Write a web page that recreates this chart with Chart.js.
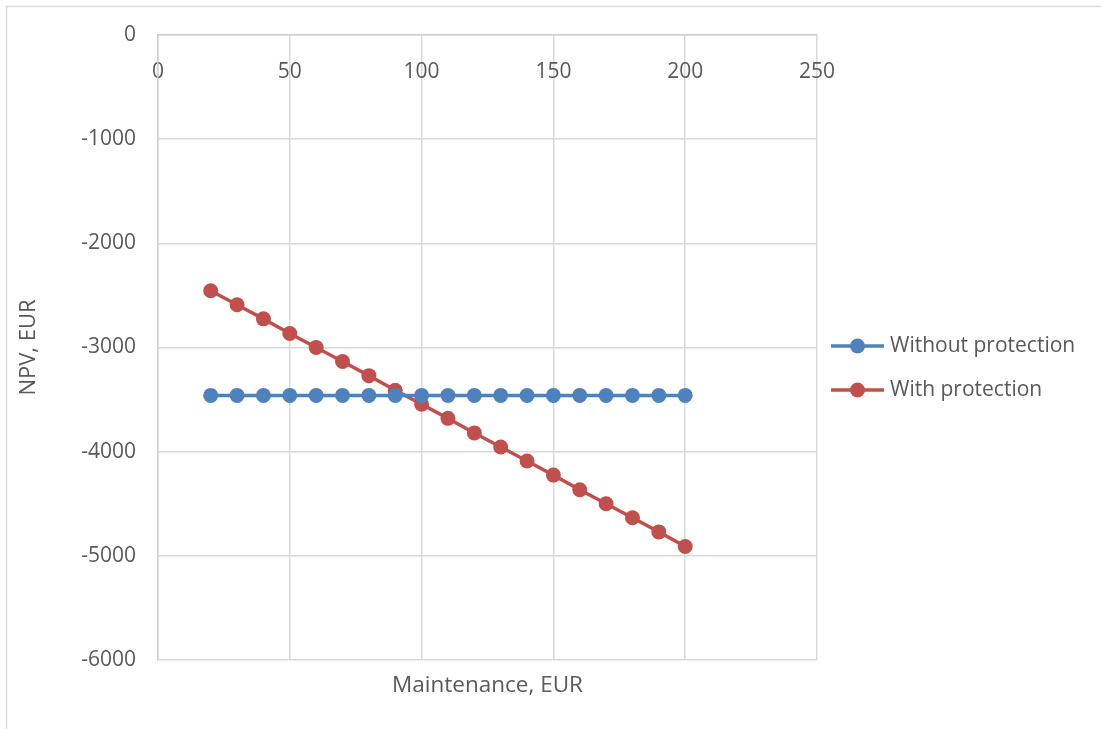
<!DOCTYPE html>
<html>
<head>
<meta charset="utf-8">
<script src="https://cdn.jsdelivr.net/npm/chart.js@4/dist/chart.umd.min.js"></script>
<style>
  html, body { margin: 0; padding: 0; background: #ffffff; }
  #wrap { width: 1101px; height: 729px; }
</style>
</head>
<body>
<div id="wrap"><canvas id="npv" width="1101" height="729"></canvas></div>
<script>
// Maintenance cost (EUR) on the horizontal axis
const maintenance = [20, 30, 40, 50, 60, 70, 80, 90, 100, 110, 120, 130, 140, 150, 160, 170, 180, 190, 200];
// NPV (EUR) for each scenario
const withoutProtection = [-3460, -3460, -3460, -3460, -3460, -3460, -3460, -3460, -3460, -3460,
                           -3460, -3460, -3460, -3460, -3460, -3460, -3460, -3460, -3460];
const withProtection = [-2455, -2590, -2725, -2865, -3000, -3135, -3270, -3410, -3545, -3680,
                        -3820, -3955, -4090, -4225, -4365, -4500, -4635, -4770, -4910];
const seriesNames = ['Without protection', 'With protection'];
const xTicks = [0, 50, 100, 150, 200, 250];
const yTicks = [0, -1000, -2000, -3000, -4000, -5000, -6000];

const BLUE = '#4f81bd';
const RED = '#c0504d';
const TEXT = '#595959';
const GRID = '#d9d9d9';
const FONT = "'Open Sans', 'Noto Sans', sans-serif";

Chart.defaults.font.family = FONT;
Chart.defaults.color = TEXT;

function toPoints(xs, ys) {
  return xs.map((x, i) => ({ x: x, y: ys[i] }));
}

// Outer frame of the chart object
const framePlugin = {
  id: 'frame',
  beforeDraw(chart) {
    const ctx = chart.ctx;
    ctx.save();
    ctx.fillStyle = '#ffffff';
    ctx.fillRect(0, 0, chart.width, chart.height);
    ctx.strokeStyle = GRID;
    ctx.lineWidth = 1.5;
    ctx.beginPath();
    ctx.moveTo(6.5, chart.height);
    ctx.lineTo(6.5, 6.5);
    ctx.lineTo(chart.width, 6.5);
    ctx.stroke();
    ctx.restore();
  }
};

// Legend on the right: line with a marker, followed by the series name
const sideLegend = {
  id: 'sideLegend',
  afterDraw(chart) {
    const ctx = chart.ctx;
    const x0 = 831, x1 = 884, textX = 890;
    const rows = [346, 390];
    ctx.save();
    chart.data.datasets.forEach((ds, i) => {
      const y = rows[i];
      ctx.strokeStyle = ds.borderColor;
      ctx.lineWidth = 3.5;
      ctx.beginPath();
      ctx.moveTo(x0, y);
      ctx.lineTo(x1, y);
      ctx.stroke();
      ctx.fillStyle = ds.pointBackgroundColor;
      ctx.beginPath();
      ctx.arc((x0 + x1) / 2, y, 7.5, 0, Math.PI * 2);
      ctx.fill();
      ctx.fillStyle = TEXT;
      ctx.font = '21px ' + FONT;
      ctx.textBaseline = 'middle';
      ctx.textAlign = 'left';
      ctx.fillText(ds.label, textX, y);
    });
    ctx.restore();
  }
};

new Chart(document.getElementById('npv'), {
  type: 'line',
  data: {
    datasets: [
      {
        label: seriesNames[0],
        data: toPoints(maintenance, withoutProtection),
        borderColor: BLUE,
        backgroundColor: BLUE,
        pointBackgroundColor: BLUE,
        pointBorderColor: BLUE,
        borderWidth: 3.5,
        pointRadius: 7.5,
        pointBorderWidth: 0,
        tension: 0
      },
      {
        label: seriesNames[1],
        data: toPoints(maintenance, withProtection),
        borderColor: RED,
        backgroundColor: RED,
        pointBackgroundColor: RED,
        pointBorderColor: RED,
        borderWidth: 3.5,
        pointRadius: 7.5,
        pointBorderWidth: 0,
        tension: 0
      }
    ]
  },
  options: {
    responsive: false,
    animation: false,
    events: [],
    layout: { padding: { top: 35, right: 284, bottom: 0, left: 0 } },
    plugins: {
      legend: { display: false },
      tooltip: { enabled: false }
    },
    scales: {
      x: {
        type: 'linear',
        position: { y: 0 },
        min: 0,
        max: 250,
        afterBuildTicks(scale) { scale.ticks = xTicks.map(v => ({ value: v })); },
        ticks: {
          padding: 24,
          font: { size: 21 },
          color: TEXT,
          maxRotation: 0,
          callback: v => String(v)
        },
        grid: { color: GRID, lineWidth: 1.5, drawTicks: false },
        border: { color: '#cfcfcf', width: 1.5 }
      },
      xTitle: {
        type: 'linear',
        axis: 'x',
        position: 'bottom',
        min: 0,
        max: 250,
        afterFit(scale) { scale.height = 69; },
        ticks: { display: false },
        grid: { display: false },
        border: { display: false },
        title: {
          display: true,
          text: 'Maintenance, EUR',
          font: { size: 22.5 },
          color: TEXT,
          padding: { top: 0, bottom: 30 }
        }
      },
      y: {
        type: 'linear',
        position: 'left',
        min: -6000,
        max: 0,
        afterBuildTicks(scale) { scale.ticks = yTicks.map(v => ({ value: v })); },
        afterFit(scale) { scale.width = 158; },
        ticks: {
          padding: 22,
          font: { size: 21 },
          color: TEXT,
          callback: v => String(v)
        },
        grid: { color: GRID, lineWidth: 1.5, drawTicks: false },
        border: { color: '#cfcfcf', width: 1.5 },
        title: {
          display: true,
          text: 'NPV, EUR',
          font: { size: 22 },
          color: TEXT,
          padding: { top: 16, bottom: 0 }
        }
      }
    }
  },
  plugins: [framePlugin, sideLegend]
});
</script>
</body>
</html>
